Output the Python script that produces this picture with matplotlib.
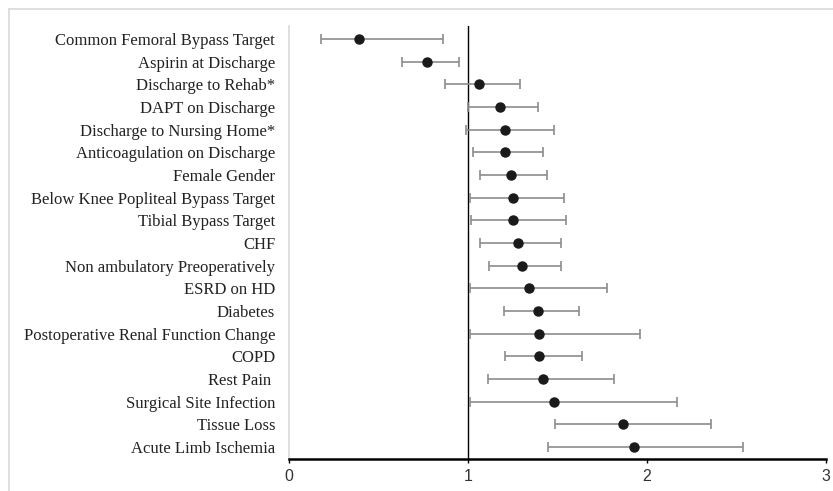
import matplotlib.pyplot as plt
import numpy as np
from matplotlib.lines import Line2D

factors = [
    "Common Femoral Bypass Target",
    "Aspirin at Discharge",
    "Discharge to Rehab*",
    "DAPT on Discharge",
    "Discharge to Nursing Home*",
    "Anticoagulation on Discharge",
    "Female Gender",
    "Below Knee Popliteal Bypass Target",
    "Tibial Bypass Target",
    "CHF",
    "Non ambulatory Preoperatively",
    "ESRD on HD",
    "Diabetes",
    "Postoperative Renal Function Change",
    "COPD",
    "Rest Pain ",
    "Surgical Site Infection",
    "Tissue Loss",
    "Acute Limb Ischemia",
]
odds = [0.39, 0.77, 1.06, 1.18, 1.21, 1.21, 1.24, 1.25, 1.25, 1.28,
        1.30, 1.34, 1.39, 1.40, 1.40, 1.42, 1.48, 1.87, 1.93]
ci_low = [0.18, 0.63, 0.87, 1.00, 0.99, 1.03, 1.07, 1.01, 1.02, 1.07,
          1.12, 1.01, 1.20, 1.01, 1.21, 1.11, 1.01, 1.49, 1.45]
ci_high = [0.86, 0.95, 1.29, 1.39, 1.48, 1.42, 1.44, 1.54, 1.55, 1.52,
           1.52, 1.78, 1.62, 1.96, 1.64, 1.82, 2.17, 2.36, 2.54]
xticks = [0, 1, 2, 3]


def main():
    fig = plt.figure(figsize=(8.33, 4.91), dpi=100)
    fig.patch.set_facecolor("white")

    # outer frame (cropped at right / bottom)
    fig.lines.append(Line2D([0.011, 1.0], [0.981, 0.981], transform=fig.transFigure, color="#d9d9d9", lw=1.2))
    fig.lines.append(Line2D([0.011, 0.011], [0.0, 0.981], transform=fig.transFigure, color="#d9d9d9", lw=1.2))

    ax = fig.add_axes([0.347, 0.065, 0.644, 0.882])
    n = len(factors)
    y = np.arange(n, 0, -1)
    od = np.array(odds)
    lo = od - np.array(ci_low)
    hi = np.array(ci_high) - od

    ax.errorbar(od, y, xerr=[lo, hi], fmt="none", ecolor="#8c8c8c", elinewidth=1.2,
                capsize=3.5, capthick=1.2, zorder=2)
    ax.plot(od, y, "o", color="#1a1a1a", markersize=6.5, zorder=3)
    ax.axvline(1, color="black", lw=1.0, zorder=1)

    ax.set_xlim(0, 3)
    ax.set_ylim(0.47, n + 0.57)
    ax.set_xticks(xticks)
    ax.set_xticklabels([str(t) for t in xticks], fontsize=11.5, family="Liberation Sans", color="#333333")
    ax.set_yticks(y)
    ax.set_yticklabels(factors, fontsize=12, family="Liberation Serif", color="#222222")

    for sp in ["top", "right"]:
        ax.spines[sp].set_visible(False)
    ax.spines["left"].set_color("#d9d9d9")
    ax.spines["left"].set_linewidth(1.2)
    ax.spines["bottom"].set_color("black")
    ax.spines["bottom"].set_linewidth(1.8)
    ax.tick_params(axis="y", length=0, pad=10)
    ax.tick_params(axis="x", length=3, width=1.0, direction="out", pad=4)

    fig.savefig("out.png", dpi=100)


if __name__ == "__main__":
    main()
